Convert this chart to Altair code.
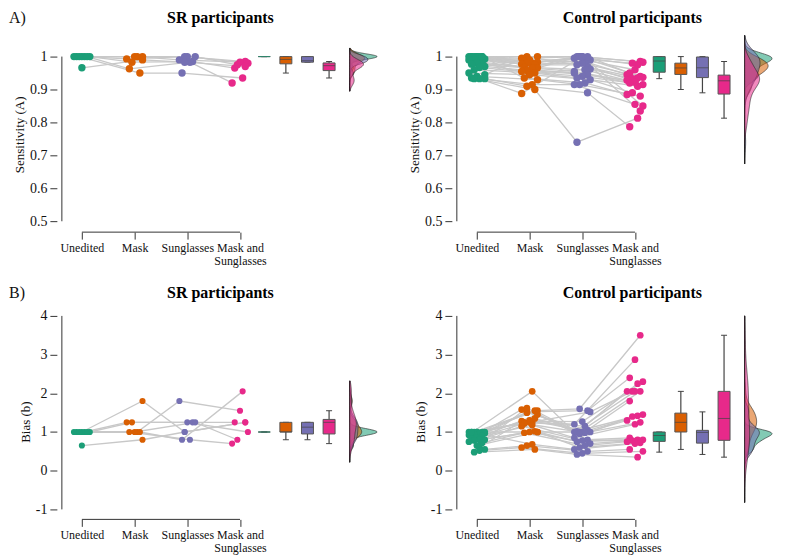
import altair as alt
import pandas as pd

FONT = "Liberation Serif"

conditions = ["Unedited", "Mask", "Sunglasses", "Mask and Sunglasses"]
palette = ["#1b9e77", "#d95f02", "#7570b3", "#e7298a"]

# ---- A) Sensitivity (A), SR participants (one entry per participant) ----
sr_sens_unedited = [1.0, 1.0, 1.0, 1.0, 1.0, 1.0, 1.0, 0.966]
sr_sens_mask = [1.0, 1.0, 0.983, 0.993, 0.95, 1.0, 0.963, 0.99]
sr_sens_sunglasses = [1.0, 0.99, 0.985, 1.0, 0.95, 1.0, 0.983, 0.983]
sr_sens_masksun = [0.985, 0.983, 0.965, 0.98, 0.935, 0.975, 0.92, 0.97]

# ---- A) Sensitivity (A), control participants ----
ctl_sens_unedited = [1.0, 1.0, 0.945, 1.0, 1.0, 1.0, 1.0, 1.0, 1.0, 0.993, 0.993, 0.99, 0.99,
                     0.983, 0.98, 0.977, 0.97, 0.967, 0.96, 0.95, 1.0, 0.94, 0.935, 0.933, 0.933, 0.933]
ctl_sens_mask = [1.0, 0.98, 1.0, 0.995, 0.97, 0.99, 0.985, 0.983, 0.96, 0.98, 0.977, 0.975, 0.948,
                 0.968, 0.966, 0.965, 0.958, 0.955, 0.95, 0.945, 0.935, 0.93, 0.915, 0.91, 0.888, 0.9]
ctl_sens_sunglasses = [1.0, 0.995, 0.97, 1.0, 1.0, 0.99, 0.985, 1.0, 0.95, 1.0, 0.98, 0.975, 0.962,
                       0.96, 1.0, 0.955, 0.945, 0.94, 0.935, 0.93, 0.92, 0.915, 0.915, 0.89, 1.0, 0.74]
ctl_sens_masksun = [0.985, 0.96, 0.93, 0.983, 0.975, 0.98, 0.945, 0.94, 0.925, 0.95, 0.937, 0.935, 0.933,
                    0.928, 0.835, 0.922, 0.92, 0.915, 0.91, 0.89, 0.885, 0.88, 0.855, 0.787, 0.85, 0.813]

# ---- B) Bias (b), SR participants ----
sr_bias_unedited = [1.0, 1.0, 1.0, 1.0, 1.0, 1.0, 1.0, 0.65]
sr_bias_mask = [1.8, 1.0, 1.25, 1.25, 1.0, 1.0, 1.0, 0.8]
sr_bias_sunglasses = [1.0, 1.8, 1.25, 1.25, 0.8, 1.25, 0.8, 1.0]
sr_bias_masksun = [1.25, 1.55, 1.25, 1.0, 2.05, 0.8, 0.7, 1.25]

# ---- B) Bias (b), control participants ----
ctl_bias_unedited = [1.0, 1.0, 1.0, 0.6, 1.0, 1.0, 1.0, 1.0, 0.98, 0.97, 0.95, 0.93, 0.92,
                     0.9, 0.85, 0.82, 0.8, 0.8, 0.78, 0.75, 0.72, 0.65, 1.0, 0.55, 0.52, 0.48]
ctl_bias_mask = [1.55, 1.25, 1.52, 1.28, 1.55, 1.25, 1.25, 1.0, 2.05, 1.5, 1.58, 1.35, 1.3,
                 1.22, 1.45, 1.18, 1.62, 1.15, 1.02, 1.0, 0.98, 1.0, 0.68, 0.65, 0.6, 0.55]
ctl_bias_sunglasses = [1.6, 1.2, 1.55, 1.27, 1.0, 1.52, 1.15, 1.0, 1.0, 1.05, 1.0, 1.02, 1.0,
                       0.98, 0.95, 0.85, 0.8, 0.78, 0.75, 0.7, 0.65, 0.6, 0.55, 0.5, 0.45, 0.42]
ctl_bias_masksun = [3.5, 2.87, 2.4, 2.3, 2.25, 2.05, 2.05, 2.05, 2.05, 1.8, 1.45, 1.42, 1.4,
                    1.3, 1.25, 1.2, 0.85, 0.8, 0.8, 0.78, 0.75, 0.72, 0.7, 0.55, 0.5, 0.35]

sens_ticks = [0.5, 0.6, 0.7, 0.8, 0.9, 1]
bias_ticks = [-1, 0, 1, 2, 3, 4]

X0, X1 = 0.62, 6.6
BOX0, BOXSTEP = 4.46, 0.41
VBASE, VWIDTH = 6.08, 0.52
W = 326

color_scale = alt.Scale(domain=conditions, range=palette)

label_expr = ("datum.value == 1 ? '%s' : datum.value == 2 ? '%s' : datum.value == 3 ? '%s' : ['Mask and', 'Sunglasses']"
              % (conditions[0], conditions[1], conditions[2]))


def panel(vals, ydom, yticks, ytitle, title_y_pos, title, title_x, title_y, letter, letter_y,
          dens_extent, pt_size, height):
    rows = []
    for c, arr in enumerate(vals, start=1):
        for i, v in enumerate(arr):
            jit = ((i * 5 + c * 3) % 7 - 3) * 0.05
            rows.append({"pid": i, "c": c, "cond": conditions[c - 1], "value": v,
                         "jx": c + jit, "bx": BOX0 + BOXSTEP * (c - 1)})
    df = pd.DataFrame(rows)

    xscale = alt.Scale(domain=[X0, X1], nice=False, zero=False)
    yscale = alt.Scale(domain=ydom, nice=False, zero=False)
    xaxis = alt.Axis(values=[1, 2, 3, 4], labelExpr=label_expr, domain=False, grid=False,
                     tickSize=7, tickColor="#333", labelFont=FONT, labelFontSize=12,
                     labelColor="#111", labelPadding=3, labelLineHeight=13,
                     labelOverlap=False, labelFlush=False, title=None)
    yaxis = alt.Axis(values=yticks, labelExpr="'' + datum.value", domain=False, grid=False,
                     tickSize=7, tickColor="#333", labelFont=FONT, labelFontSize=14,
                     labelColor="#111", labelPadding=3, title=ytitle, titleFont=FONT,
                     titleFontSize=13, titleFontWeight="normal", titleColor="#111",
                     titlePadding=3, titleY=title_y_pos, labelOverlap=False)

    def X(f):
        return alt.X(f, scale=xscale, axis=xaxis)

    def Y(f):
        return alt.Y(f, scale=yscale, axis=yaxis)

    yline = alt.Chart(pd.DataFrame({"x": [X0], "y": [min(yticks)], "y2": [max(yticks)]})).mark_rule(
        color="#333", strokeWidth=1).encode(x=X("x:Q"), y=Y("y:Q"), y2="y2:Q")
    xline = alt.Chart(pd.DataFrame({"x": [1], "x2": [4], "y": [ydom[0]]})).mark_rule(
        color="#333", strokeWidth=1).encode(x=X("x:Q"), x2="x2:Q", y=Y("y:Q"))

    lines = alt.Chart(df).mark_line(color="#c8c8c8", strokeWidth=1.3).encode(
        x=X("jx:Q"), y=Y("value:Q"), detail="pid:N", order="c:Q")
    points = alt.Chart(df).mark_circle(size=pt_size, opacity=1).encode(
        x=X("jx:Q"), y=Y("value:Q"),
        color=alt.Color("cond:N", scale=color_scale, legend=None))
    boxes = alt.Chart(df).mark_boxplot(
        size=12, extent=1.5, outliers=False, ticks={"color": "#444", "size": 6},
        box={"stroke": "#555", "strokeWidth": 1},
        median={"color": "#444", "strokeWidth": 1.5},
        rule={"color": "#444", "strokeWidth": 1.2},
    ).encode(x=X("bx:Q"), y=Y("value:Q"),
             color=alt.Color("cond:N", scale=color_scale, legend=None))

    violins = []
    for k in [0, 1, 2, 3]:
        v = alt.Chart(df).transform_density(
            "value", groupby=["cond"], extent=dens_extent, steps=200, as_=["value", "density"]
        ).transform_joinaggregate(maxd="max(density)").transform_filter(
            alt.datum.cond == conditions[k]
        ).transform_calculate(
            xpos="%f + datum.density / datum.maxd * %f" % (VBASE, VWIDTH)
        ).mark_area(orient="horizontal", fill=palette[k], fillOpacity=0.55,
                    stroke="#222", strokeWidth=0.6).encode(
            y=Y("value:Q"), x=X("xpos:Q"), x2=alt.datum(VBASE))
        violins.append(v)

    title_mark = alt.Chart(pd.DataFrame({"t": [title]})).mark_text(
        align="center", baseline="alphabetic", font=FONT, fontSize=16, fontWeight="bold",
        color="#000").encode(x=alt.value(title_x), y=alt.value(title_y), text="t:N")

    layers = [yline, xline, lines, points, boxes] + violins + [title_mark]
    if letter:
        letter_mark = alt.Chart(pd.DataFrame({"t": [letter]})).mark_text(
            align="left", baseline="alphabetic", font=FONT, fontSize=16, color="#111").encode(
            x=alt.value(-48), y=alt.value(letter_y), text="t:N")
        layers.append(letter_mark)
    return alt.layer(*layers).properties(width=W, height=height)


tl = panel([sr_sens_unedited, sr_sens_mask, sr_sens_sunglasses, sr_sens_masksun],
           [0.467, 1.0], sens_ticks, "Sensitivity (A)", 78, "SR participants", 164, -34,
           "A)", -34, [0.895, 1.025], 55, 176)
tr = panel([ctl_sens_unedited, ctl_sens_mask, ctl_sens_sunglasses, ctl_sens_masksun],
           [0.467, 1.0], sens_ticks, "Sensitivity (A)", 78, "Control participants", 181, -34,
           "", -34, [0.674, 1.064], 55, 176)
bl = panel([sr_bias_unedited, sr_bias_mask, sr_bias_sunglasses, sr_bias_masksun],
           [-1.258, 4.0], bias_ticks, "Bias (b)", 106, "SR participants", 164, -18,
           "B)", -18, [0.22, 2.32], 38, 204)
br = panel([ctl_bias_unedited, ctl_bias_mask, ctl_bias_sunglasses, ctl_bias_masksun],
           [-1.258, 4.0], bias_ticks, "Bias (b)", 106, "Control participants", 181, -18,
           "", -18, [-0.82, 4.0], 45, 204)

chart = alt.concat(tl, tr, bl, br, columns=2, spacing={"row": 84, "column": 70},
                   bounds="flush").properties(padding=0).configure_view(
    stroke="transparent").configure_axis(labelFont=FONT, titleFont=FONT)

chart.save("out.html", embed_options={"renderer": "svg", "actions": False})
